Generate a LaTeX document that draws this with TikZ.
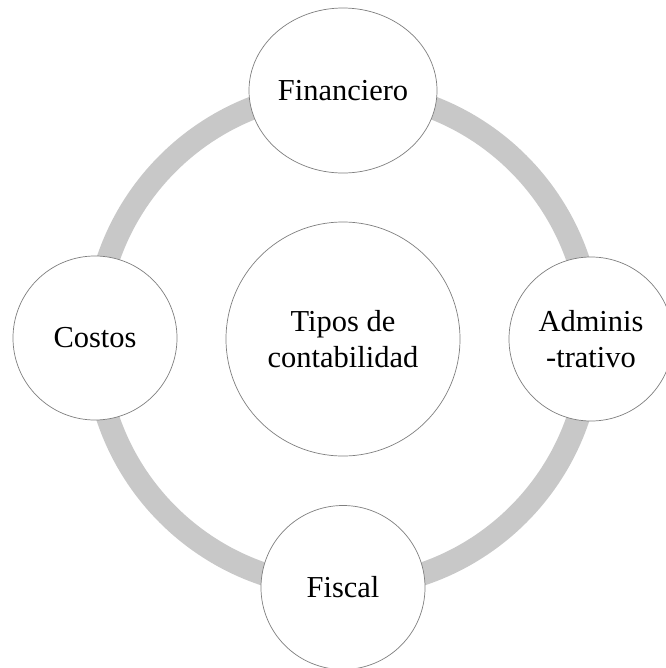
\documentclass[tikz,border=0pt]{standalone}
\usepackage{fontspec}
\setmainfont{Liberation Serif}
\usepackage{xcolor}
\usepackage{tikz}
\usetikzlibrary{shapes.geometric}
\definecolor{RingGray}{HTML}{C8C8C8}
\definecolor{EdgeGray}{HTML}{7F7F7F}

\tikzset{
  ring/.style={draw=RingGray,line width=0.69cm},
  bubble/.style={circle,draw=EdgeGray,fill=white,line width=0.6pt,
    align=center,inner sep=0pt,minimum size=4.92cm,
    font=\fontsize{26}{31}\selectfont},
}

\begin{document}
\begin{tikzpicture}[x=0.03cm,y=-0.03cm]
  \useasboundingbox (0,0) rectangle (665,668);

  % Ring behind the circles
  \coordinate (mid) at (343,339);
  \draw[ring] (mid) circle[radius=7.44cm];

  % Centre
  \node[bubble,minimum size=7.02cm] (tipos) at (mid) {Tipos de\\contabilidad};

  % Financiero (slightly wider)
  \node[bubble,ellipse,minimum width=5.64cm,minimum height=4.95cm] (fin) at (343,90.5) {Financiero};

  % Adminis-trativo
  \node[bubble] (adm) at (591,339) {Adminis\\-trativo};

  % Fiscal
  \node[bubble] (fis) at (343,587.5) {Fiscal};

  % Costos
  \node[bubble] (cos) at (95,338) {Costos};
\end{tikzpicture}
\end{document}
